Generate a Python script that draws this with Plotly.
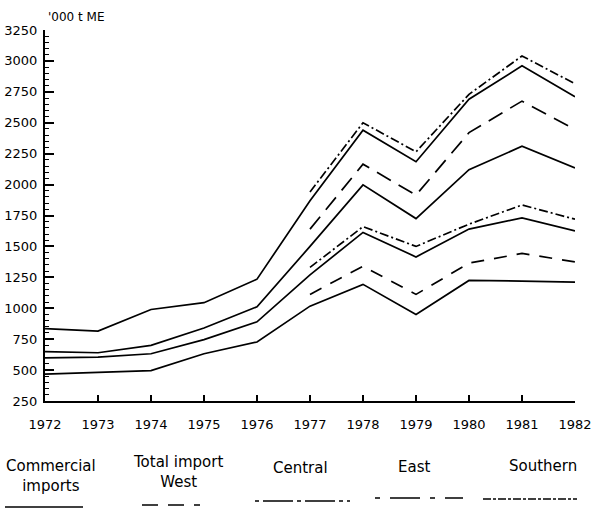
import plotly.graph_objects as go

years = list(range(1972, 1983))

# values, '000 t ME (None = series not drawn that year)
dashdot_top = [None, None, None, None, None, 1940, 2500, 2265, 2730, 3040, 2815]
solid_2 = [835, 815, 990, 1045, 1235, 1870, 2440, 2185, 2690, 2960, 2710]
longdash_3 = [None, None, None, None, None, 1640, 2165, 1915, 2420, 2675, 2445]
solid_4 = [650, 640, 700, 840, 1012, 1500, 1998, 1725, 2120, 2310, 2135]
dashdot_5 = [None, None, None, None, None, 1330, 1660, 1500, 1680, 1835, 1720]
solid_6 = [598, 605, 632, 746, 890, 1270, 1613, 1415, 1640, 1730, 1625]
longdash_7 = [None, None, None, None, None, 1112, 1340, 1112, 1365, 1443, 1375]
solid_8 = [467, 480, 496, 632, 727, 1017, 1193, 949, 1225, 1220, 1212]

series = [
    ('Southern', dashdot_top, '9px,3px,2px,3px'),
    ('Commercial imports', solid_2, 'solid'),
    ('Total import West', longdash_3, '16px,9px'),
    ('Commercial imports', solid_4, 'solid'),
    ('Central', dashdot_5, '9px,3px,2px,3px'),
    ('Commercial imports', solid_6, 'solid'),
    ('East', longdash_7, '13px,10px'),
    ('Commercial imports', solid_8, 'solid'),
]

legend_labels = ['Commercial<br>imports', 'Total import<br>West', 'Central', 'East', 'Southern']
legend_dashes = ['solid', '16px,10px', '4px,4px,30px,4px', '5px,10px,30px,10px', '8px,2px,3px,2px']

FONT = 'DejaVu Sans'

W, H = 599, 520
# plot area in pixels
L, R, T, B = 45, 575, 30, 401


def px(x):
    return (x - L) / (R - L)


def py(y):
    return (B - y) / (B - T)


fig = go.Figure()
for name, vals, dash in series:
    fig.add_trace(go.Scatter(x=years, y=vals, mode='lines', name=name,
                             line=dict(color='black', width=1.7, dash=dash),
                             connectgaps=False, showlegend=False))

fig.update_layout(
    width=W, height=H,
    margin=dict(l=L, r=W - R, t=T, b=H - B, autoexpand=False),
    paper_bgcolor='white', plot_bgcolor='white',
    font=dict(family=FONT, size=13, color='black'),
    showlegend=False,
)
fig.update_xaxes(range=[1972, 1982], tickvals=years, ticktext=[str(y) for y in years],
                 showline=True, linecolor='black', linewidth=2, showgrid=False, zeroline=False,
                 ticks='inside', ticklen=6, tickwidth=1.5, tickcolor='black', automargin=False,
                 ticklabelstandoff=10, tickfont=dict(size=13))
fig.update_yaxes(range=[250, 3250], dtick=250, tick0=250,
                 showline=True, linecolor='black', linewidth=2, showgrid=False, zeroline=False,
                 ticks='inside', ticklen=9, tickwidth=1.5, tickcolor='black', automargin=False,
                 minor=dict(dtick=50, ticks='inside', ticklen=4, tickcolor='black', tickwidth=1),
                 ticklabelstandoff=3, tickfont=dict(size=13))

annotations = [dict(text="'000 t ME", xref='paper', yref='paper', x=px(46), y=py(17),
                    xanchor='left', yanchor='middle', showarrow=False, font=dict(size=12))]
shapes = []

# legend: label text above a sample of the line (pixels)
label_pos = [(51, 476), (178, 472), (300, 468), (414, 467), (543, 466)]
sample_pos = [(5, 83, 507), (142, 200, 505), (255, 350, 501), (375, 463, 498), (483, 577, 499)]
for text, dash, (tx, ty), (x0, x1, sy) in zip(legend_labels, legend_dashes, label_pos, sample_pos):
    annotations.append(dict(text=text, xref='paper', yref='paper', x=px(tx), y=py(ty),
                            xanchor='center', yanchor='middle', showarrow=False,
                            font=dict(size=15), align='center'))
    shapes.append(dict(type='line', xref='paper', yref='paper', x0=px(x0), x1=px(x1),
                       y0=py(sy), y1=py(sy), line=dict(color='black', width=1.6, dash=dash)))

fig.update_layout(annotations=annotations, shapes=shapes)

# drop the default 8px body margin so the figure fills the window
fig.write_html("out.html", config={'displayModeBar': False},
               post_script="document.body.style.margin='0px';")
